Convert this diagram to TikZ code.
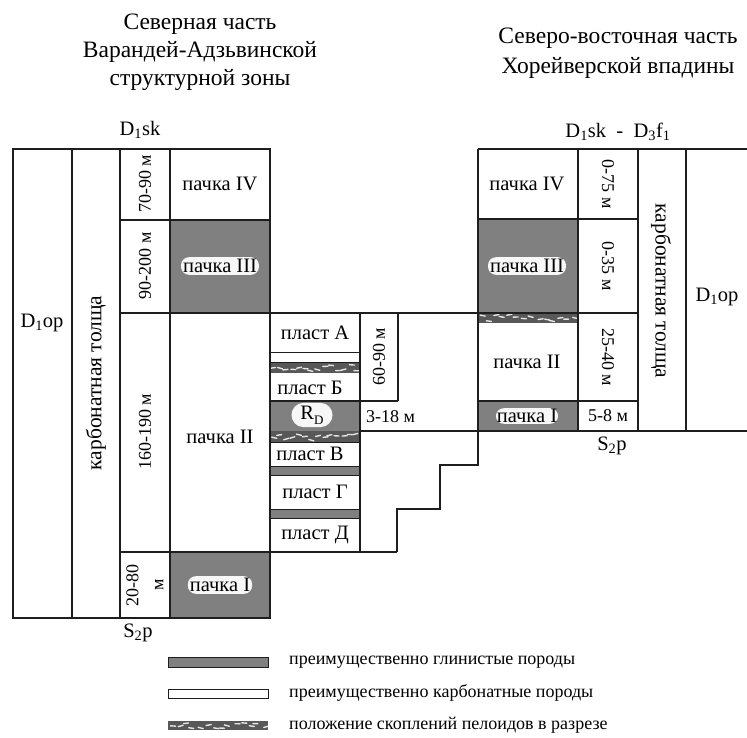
\documentclass[tikz,border=0pt]{standalone}
\usepackage{fontspec}
\setmainfont{Liberation Serif}
\definecolor{claygray}{RGB}{128,128,128}
\definecolor{peloidgray}{RGB}{88,88,88}
\definecolor{framegray}{RGB}{30,30,30}
\tikzstyle{clay} = [fill=claygray]
\tikzstyle{glow} = [fill=white!94!gray, rounded corners=8pt, inner sep=2pt]
\tikzstyle{thick label} = [font=\fontsize{18}{20}\selectfont]
\tikzstyle{carb label} = [font=\fontsize{21.5}{23}\selectfont]
\newcommand{\sbs}[1]{\textsubscript{#1}}
% полоса со скоплениями пелоидов: x1 y1 x2 y2
\newcommand{\peloidband}[4]{%
	\fill[peloidgray] (#1,#2) rectangle (#3,#4);
	\begin{scope}
		\clip (#1,#2) rectangle (#3,#4);
		\foreach \k in {0,...,13} {
			\pgfmathsetmacro{\px}{#1+(\k+0.5)*(#3-#1)/14+2*rand}
			\pgfmathsetmacro{\py}{#2+(0.5+0.3*rand)*(#4-#2)}
			\draw[white!80!gray, line width=1.4pt, line cap=round] (\px-2.5,\py) -- (\px+2.5,\py+1.5*rand);
		}
	\end{scope}}

\begin{document}
\begin{tikzpicture}[x=1pt, y=-1pt, line width=1.6pt, draw=framegray,
		font=\fontsize{20.5}{22}\selectfont]
	\pgfmathsetseed{7}
	\useasboundingbox (0,0) rectangle (747,738);
	% глинистые и пелоидные слои
	\fill[clay] (170,220) rectangle (270,313);
	\fill[clay] (170,552) rectangle (270,618);
	\fill[clay] (478,219) rectangle (578,313);
	\fill[clay] (478,401) rectangle (578,431);
	\fill[clay] (270,401) rectangle (360,431);
	\fill[clay] (270,466) rectangle (360,475);
	\fill[clay] (270,509) rectangle (360,518);
	\peloidband{270}{362}{360}{373}
	\peloidband{270}{431}{360}{442}
	\peloidband{478}{313}{578}{323}
	% левый разрез
	\draw (13,149) rectangle (270,618);
	\draw (72,149) -- (72,618);
	\draw (120,149) -- (120,618);
	\draw (170,149) -- (170,618);
	\draw (120,220) -- (270,220);
	\draw (120,313) -- (638,313);
	\draw (120,552) -- (397,552);
	% пласты
	\draw (360,313) -- (360,552);
	\draw (398,313) -- (398,401);
	\draw [line width=0.9pt] (270,352) -- (360,352);
	\draw [line width=0.9pt] (270,362) -- (360,362);
	\draw (270,401) -- (398,401);
	\draw [line width=0.9pt] (270,442) -- (360,442);
	\draw [line width=0.9pt] (270,466) -- (360,466);
	\draw [line width=0.9pt] (270,475) -- (360,475);
	\draw [line width=0.9pt] (270,509) -- (360,509);
	\draw [line width=0.9pt] (270,518) -- (360,518);
	% ступени
	\draw (360,431) -- (747,431);
	\draw (478,431) -- (478,465) -- (440,465) -- (440,509) -- (397,509) -- (397,552);
	% правый разрез
	\draw (478,149) -- (747,149);
	\draw (478,149) -- (478,431);
	\draw (578,149) -- (578,431);
	\draw (638,149) -- (638,431);
	\draw (686,149) -- (686,431);
	\draw (478,219) -- (638,219);
	\draw (478,401) -- (638,401);
	% легенда
	\draw [line width=1pt, clay] (168,657) rectangle (268,667);
	\draw [line width=1pt] (168,689) rectangle (268,698);
	\peloidband{168}{721}{268}{730}

	\draw (200,52) node (titleW) [align=center, font=\fontsize{23.5}{28}\selectfont] {Северная часть\\Варандей-Адзьвинской\\структурной зоны};
	\draw (618,53) node (titleE) [align=center, font=\fontsize{23.5}{30}\selectfont] {Северо-восточная часть\\Хорейверской впадины};
	\draw (140,130) node (topW) {D\sbs{1}sk};
	\draw (618,132) node (topE) {D\sbs{1}sk\enspace-\enspace D\sbs{3}f\sbs{1}};
	\draw (138,633) node (baseW) {S\sbs{2}p};
	\draw (612,446) node (baseE) {S\sbs{2}p};
	% левый разрез
	\draw (42,323) node (opW) {D\sbs{1}op};
	\draw (96,383) node (carbW) [rotate=90, carb label] {карбонатная толща};
	\draw (145,184) node (thW4) [rotate=90, thick label] {70-90 м};
	\draw (145,266) node (thW3) [rotate=90, thick label] {90-200 м};
	\draw (145,432) node (thW2) [rotate=90, thick label] {160-190 м};
	\draw (145,585) node (thW1) [rotate=90, align=center, font=\fontsize{18}{25}\selectfont] {20-80\\м};
	\draw (220,184) node (packW4) {пачка IV};
	\draw (220,266) node (packW3) [glow] {пачка III};
	\draw (220,437) node (packW2) {пачка II};
	\draw (220,585) node (packW1) [glow] {пачка I};
	% пласты
	\draw (315,333) node (plA) {пласт А};
	\draw (310,388) node (plB) {пласт Б};
	\draw (312,415) node (rd) [glow, rounded corners=12pt, inner xsep=9pt, inner ysep=3pt] {R\raisebox{-0.5ex}{\fontsize{13}{13}\selectfont D}};
	\draw (310,454) node (plV) {пласт В};
	\draw (315,492) node (plG) {пласт Г};
	\draw (315,535) node (plD) {пласт Д};
	\draw (379,357) node (thA) [rotate=90, thick label] {60-90 м};
	\draw (362,417) node (thR) [anchor=west, thick label] {3-18 м};
	% правый разрез
	\draw (527,184) node (packE4) {пачка IV};
	\draw (527,266) node (packE3) [glow] {пачка III};
	\draw (527,362) node (packE2) {пачка II};
	\draw (527,416) node (packE1) [glow, inner sep=1pt] {пачка I};
	\draw (608,184) node (thE4) [rotate=-90, thick label] {0-75 м};
	\draw (608,266) node (thE3) [rotate=-90, thick label] {0-35 м};
	\draw (608,357) node (thE2) [rotate=-90, thick label] {25-40 м};
	\draw (608,416) node (thE1) [thick label] {5-8 м};
	\draw (661,291) node (carbE) [rotate=-90, carb label] {карбонатная толща};
	\draw (717,297) node (opE) {D\sbs{1}op};
	% легенда
	\begin{scope}[font=\fontsize{18}{20}\selectfont]
		\draw (285,662) node (legClay) [anchor=west] {преимущественно глинистые породы};
		\draw (285,693) node (legCarb) [anchor=west] {преимущественно карбонатные породы};
		\draw (285,725) node (legPel) [anchor=west] {положение скоплений пелоидов в разрезе};
	\end{scope}
\end{tikzpicture}
\end{document}
